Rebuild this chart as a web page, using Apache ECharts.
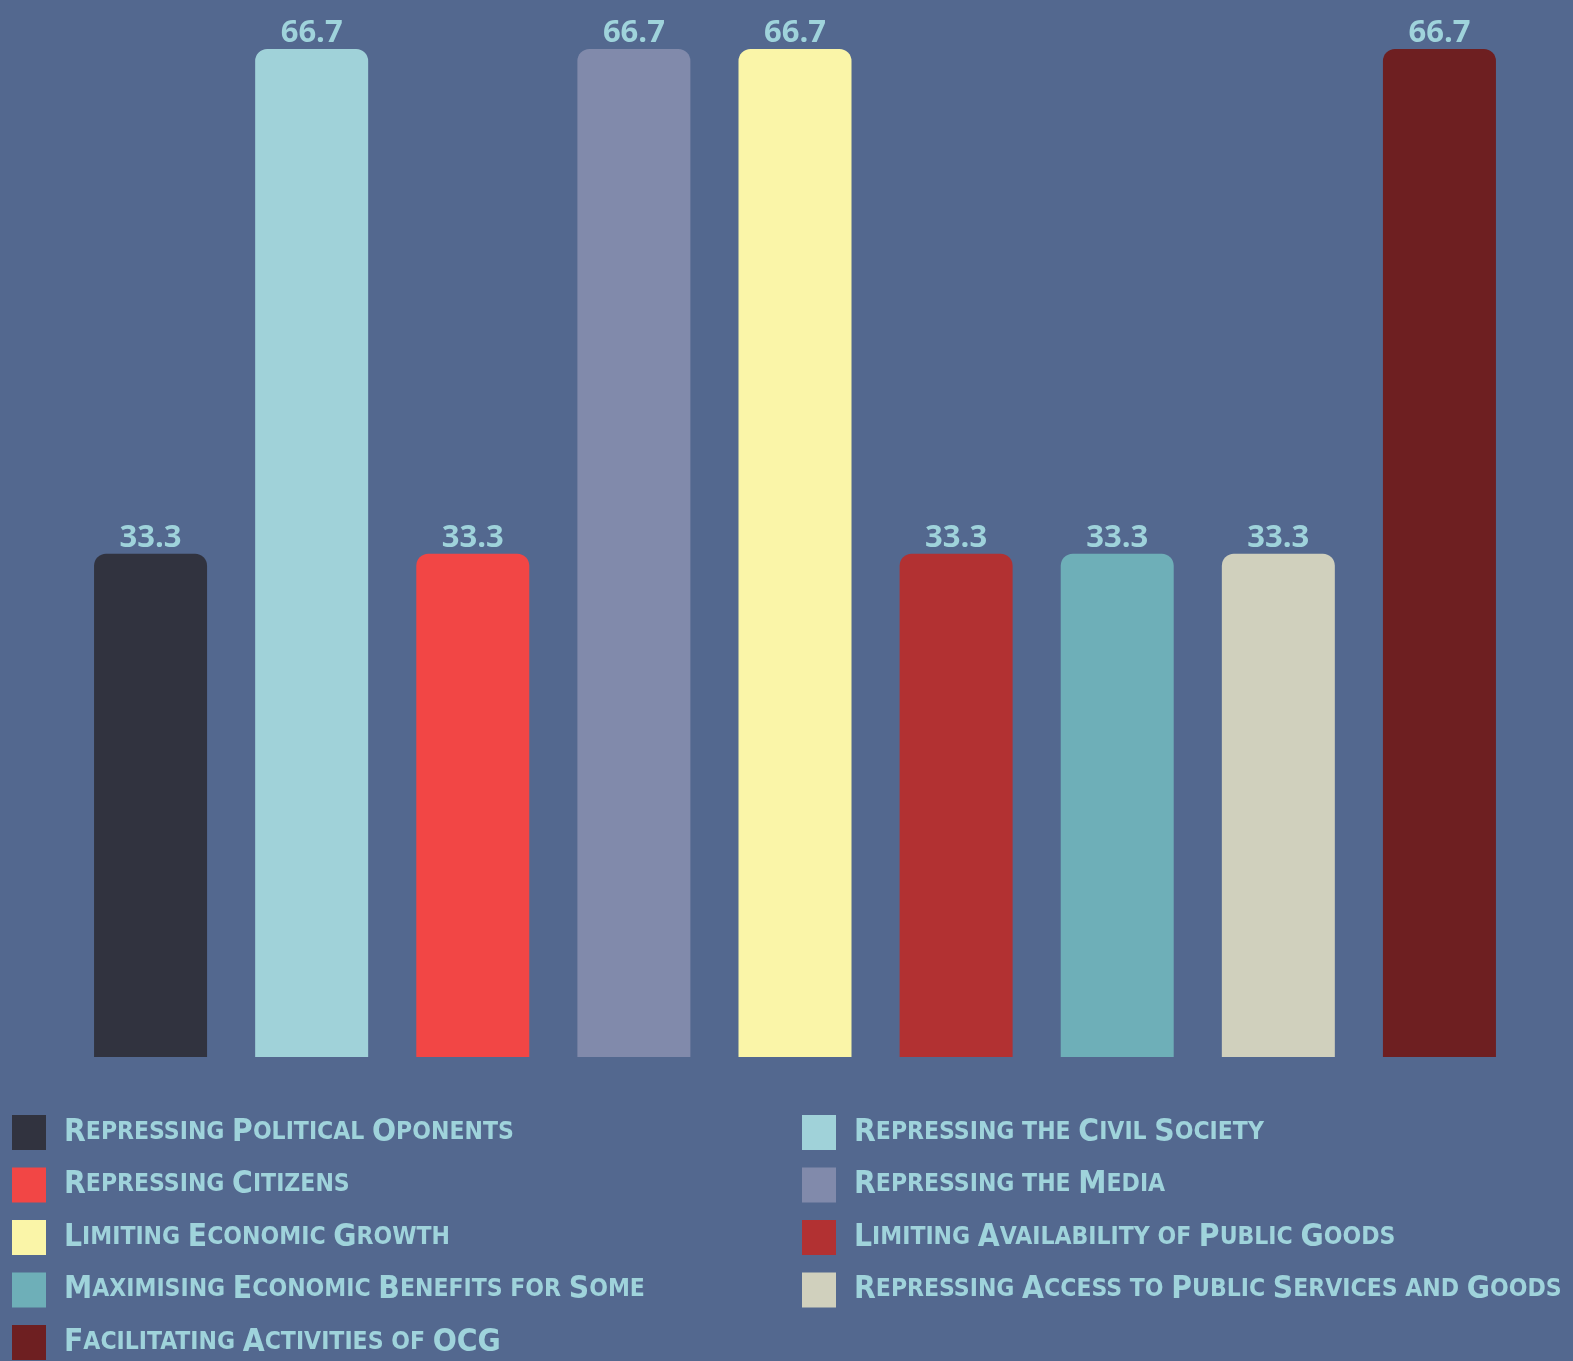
<!DOCTYPE html>
<html><head><meta charset="utf-8">
<script src="https://cdn.jsdelivr.net/npm/echarts@6/dist/echarts.min.js"></script>
<style>html,body{margin:0;padding:0;background:#53688f;overflow:hidden;}#c{width:1573px;height:1361px;}</style>
</head><body><div id="c"></div>
<script>
const categories = ["Repressing Political Oponents","Repressing the Civil Society","Repressing Citizens","Repressing the Media","Limiting Economic Growth","Limiting Availability of Public Goods","Maximising Economic Benefits for Some","Repressing Access to Public Services and Goods","Facilitating Activities of OCG"];
const values = [33.3, 66.7, 33.3, 66.7, 66.7, 33.3, 33.3, 33.3, 66.7];
const colors = ["#31333f","#a0d2d9","#f24645","#818aab","#faf5a8","#b23132","#6eafb8","#d0d0bd","#6e1f21"];

const FONT = "'DejaVu Sans Condensed','DejaVu Sans',sans-serif";
function smallCaps(name){
  let out = ""; let cur = null; let buf = "";
  const flush = () => { if (buf) { out += "{" + cur + "|" + buf + "}"; buf = ""; } };
  for (const ch of name) {
    let t = (ch >= 'A' && ch <= 'Z') ? 'a' : 'b';
    if (ch === ' ') t = cur || 'b';
    if (t !== cur) { flush(); cur = t; }
    buf += (t === 'b') ? ch.toUpperCase() : ch;
  }
  flush();
  return out;
}
const rich = {
  a: {fontFamily: FONT, fontSize: 31.5, fontWeight: 'bold', color: '#9fd3db'},
  b: {fontFamily: FONT, fontSize: 24.5, fontWeight: 'bold', color: '#9fd3db'}
};

const series = categories.map((name, i) => ({
  name: name,
  type: 'bar',
  stack: 'all',
  barWidth: 113,
  itemStyle: {color: colors[i], borderRadius: [12,12,0,0]},
  label: {show: true, position: 'top', distance: 0, color: '#9fd3db', fontSize: 31, fontWeight: 'bold', fontFamily: "'Open Sans', sans-serif",
          formatter: p => p.value.toFixed(1)},
  data: categories.map((c, j) => j === i ? values[i] : null)
}));

const legendBase = {
  orient: 'vertical', top: 1115, height: 400, itemWidth: 34, itemHeight: 35, itemGap: 17.5,
  icon: 'rect', selectedMode: false, padding: 0,
  textStyle: {rich: rich, padding: [0,0,0,13]},
  formatter: smallCaps
};

const el = document.getElementById('c');
const chart = echarts.init(el, null, {width: 1573, height: 1361});
chart.setOption({
  backgroundColor: '#53688f',
  animation: false,
  grid: {left: 70, right: 53, top: 49, bottom: 304},
  xAxis: {type: 'category', data: categories, show: false},
  yAxis: {type: 'value', min: 0, max: 66.7, show: false},
  legend: [
    Object.assign({}, legendBase, {left: 12, data: categories.filter((c, i) => i % 2 === 0)}),
    Object.assign({}, legendBase, {left: 802, data: categories.filter((c, i) => i % 2 === 1)})
  ],
  series: series
});
</script>
</body></html>
